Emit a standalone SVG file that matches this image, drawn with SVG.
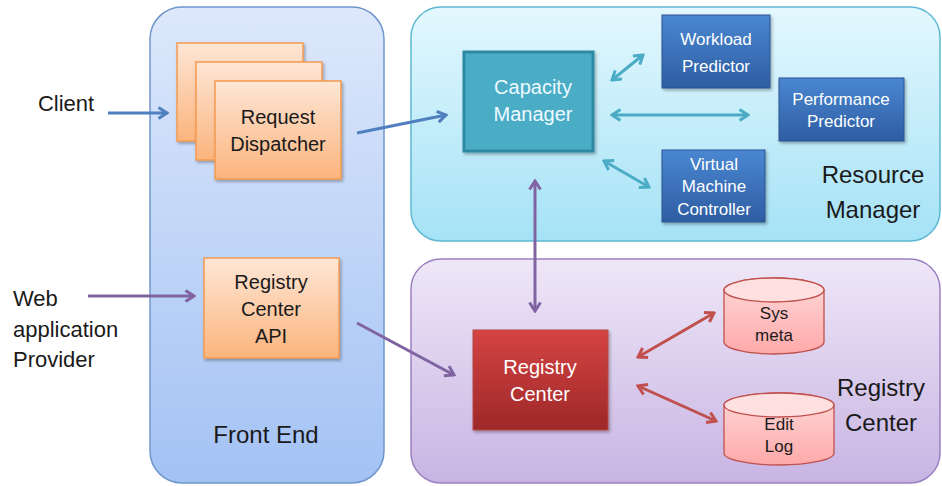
<svg xmlns="http://www.w3.org/2000/svg" width="942" height="486" viewBox="0 0 942 486">
<defs>
<linearGradient id="gFront" x1="0" y1="0" x2="0" y2="1"><stop offset="0" stop-color="#dde8fb"/><stop offset="1" stop-color="#a3c2f4"/></linearGradient>
<linearGradient id="gRes" x1="0" y1="0" x2="0" y2="1"><stop offset="0" stop-color="#e3f8fe"/><stop offset="1" stop-color="#a5e2f6"/></linearGradient>
<linearGradient id="gReg" x1="0" y1="0" x2="0" y2="1"><stop offset="0" stop-color="#eee7f7"/><stop offset="1" stop-color="#c8b4e3"/></linearGradient>
<linearGradient id="gOr" x1="0" y1="0" x2="0" y2="1"><stop offset="0" stop-color="#fee6d5"/><stop offset="1" stop-color="#fbb47d"/></linearGradient>
<linearGradient id="gBlue" x1="0" y1="0" x2="0" y2="1"><stop offset="0" stop-color="#4a87d2"/><stop offset="1" stop-color="#2e5da2"/></linearGradient>
<linearGradient id="gRed" x1="0" y1="0" x2="0" y2="1"><stop offset="0" stop-color="#d54343"/><stop offset="1" stop-color="#9e2828"/></linearGradient>
<linearGradient id="gCyl" x1="0" y1="0" x2="0" y2="1"><stop offset="0" stop-color="#ffd9d9"/><stop offset="1" stop-color="#ffa9a9"/></linearGradient>
<filter id="sh" x="-10%" y="-10%" width="130%" height="130%"><feDropShadow dx="1.5" dy="2" stdDeviation="1.5" flood-color="#000" flood-opacity="0.3"/></filter>
<marker id="mBlue" viewBox="0 0 12 14" refX="10" refY="7" markerWidth="12" markerHeight="14" markerUnits="userSpaceOnUse" orient="auto-start-reverse"><path d="M1.5,1.5 L10,7 L1.5,12.5" fill="none" stroke="#4f7fbf" stroke-width="3"/></marker>
<marker id="mPur" viewBox="0 0 12 14" refX="10" refY="7" markerWidth="12" markerHeight="14" markerUnits="userSpaceOnUse" orient="auto-start-reverse"><path d="M1.5,1.5 L10,7 L1.5,12.5" fill="none" stroke="#8064a2" stroke-width="3"/></marker>
<marker id="mCyan" viewBox="0 0 12 14" refX="10" refY="7" markerWidth="12" markerHeight="14" markerUnits="userSpaceOnUse" orient="auto-start-reverse"><path d="M1.5,1.5 L10,7 L1.5,12.5" fill="none" stroke="#4bacc6" stroke-width="3"/></marker>
<marker id="mRed" viewBox="0 0 12 14" refX="10" refY="7" markerWidth="12" markerHeight="14" markerUnits="userSpaceOnUse" orient="auto-start-reverse"><path d="M1.5,1.5 L10,7 L1.5,12.5" fill="none" stroke="#c0504d" stroke-width="3"/></marker>
</defs>
<style>
text{font-family:"Liberation Sans",Arial,sans-serif;text-anchor:middle;fill:#1a1a1a}
.w{fill:#ffffff}
.s20{font-size:20px}
.s22{font-size:22px}
.s17{font-size:17px}
.s24{font-size:24px}
.orange{fill:url(#gOr);stroke:#f59a4f;stroke-width:1.5;filter:url(#sh)}
.blue{fill:url(#gBlue);stroke:#2b5590;stroke-width:1;filter:url(#sh)}
.cyl{fill:url(#gCyl);stroke:#c0504d;stroke-width:1.3}
.ln{fill:none;stroke-width:3}
</style>

<g id="front-end">
<rect x="150" y="7" width="234" height="476" rx="32" fill="url(#gFront)" stroke="#6f96cc" stroke-width="1.5"/>
<text class="s24" x="266" y="443">Front End</text>
</g>
<g id="resource-manager">
<rect x="411" y="7" width="529" height="234" rx="30" fill="url(#gRes)" stroke="#5fb8d2" stroke-width="1.5"/>
<text class="s24" x="873" y="183">Resource</text>
<text class="s24" x="873" y="218">Manager</text>
</g>
<g id="registry-center-group">
<rect x="411" y="259" width="529" height="224" rx="30" fill="url(#gReg)" stroke="#9a80c2" stroke-width="1.5"/>
<text class="s24" x="881" y="396">Registry</text>
<text class="s24" x="881" y="431">Center</text>
</g>

<g id="client"><text class="s22" x="66" y="111">Client</text></g>
<g id="web-provider">
<text class="s22" x="13" y="306" style="text-anchor:start">Web</text>
<text class="s22" x="13" y="337" style="text-anchor:start">application</text>
<text class="s22" x="13" y="367" style="text-anchor:start">Provider</text>
</g>

<g id="request-dispatcher">
<rect class="orange" x="177" y="43" width="126" height="98"/>
<rect class="orange" x="196" y="62" width="126" height="98"/>
<rect class="orange" x="215" y="81" width="126" height="98"/>
<text class="s20" x="278" y="124">Request</text>
<text class="s20" x="278" y="151">Dispatcher</text>
</g>
<g id="registry-center-api">
<rect class="orange" x="204" y="258" width="135" height="100"/>
<text class="s20" x="271" y="289">Registry</text>
<text class="s20" x="271" y="316">Center</text>
<text class="s20" x="271" y="343">API</text>
</g>

<g id="capacity-manager">
<rect x="464" y="52" width="129" height="99" fill="#4bacc6" stroke="#2f8aa3" stroke-width="3" filter="url(#sh)"/>
<text class="s20" x="533" y="94" style="fill:#eefaff">Capacity</text>
<text class="s20" x="533" y="121" style="fill:#eefaff">Manager</text>
</g>
<g id="workload-predictor">
<rect class="blue" x="662" y="15" width="108" height="73"/>
<text class="s17 w" x="716" y="45">Workload</text>
<text class="s17 w" x="716" y="72">Predictor</text>
</g>
<g id="performance-predictor">
<rect class="blue" x="779" y="78" width="125" height="63"/>
<text class="s17 w" x="841" y="105">Performance</text>
<text class="s17 w" x="841" y="127">Predictor</text>
</g>
<g id="vm-controller">
<rect class="blue" x="662" y="150" width="103" height="72"/>
<text class="s17 w" x="714" y="170">Virtual</text>
<text class="s17 w" x="714" y="192">Machine</text>
<text class="s17 w" x="714" y="215">Controller</text>
</g>

<g id="registry-center">
<rect x="473" y="330" width="135" height="100" fill="url(#gRed)" stroke="#b54848" stroke-width="1" filter="url(#sh)"/>
<text class="s20 w" x="540" y="374">Registry</text>
<text class="s20 w" x="540" y="401">Center</text>
</g>
<g id="sys-meta">
<path class="cyl" d="M724,290 L724,342 A50,12 0 0 0 824,342 L824,290 A50,12 0 0 0 724,290 Z"/>
<ellipse cx="774" cy="290" rx="50" ry="12" fill="#ffe0e0" stroke="#c0504d" stroke-width="1.3"/>
<text class="s17" x="774" y="319">Sys</text>
<text class="s17" x="774" y="341">meta</text>
</g>
<g id="edit-log">
<path class="cyl" d="M724,405 L724,453 A55,12 0 0 0 834,453 L834,405 A55,12 0 0 0 724,405 Z"/>
<ellipse cx="779" cy="405" rx="55" ry="12" fill="#ffe0e0" stroke="#c0504d" stroke-width="1.3"/>
<text class="s17" x="779" y="430">Edit</text>
<text class="s17" x="779" y="452">Log</text>
</g>

<g id="connectors">
<line class="ln" x1="108" y1="113" x2="167" y2="113" stroke="#4f7fbf" marker-end="url(#mBlue)"/>
<line class="ln" x1="357" y1="133" x2="446" y2="115" stroke="#4f7fbf" marker-end="url(#mBlue)"/>
<line class="ln" x1="88" y1="296" x2="194" y2="296" stroke="#8064a2" marker-end="url(#mPur)"/>
<line class="ln" x1="357" y1="323" x2="454" y2="375" stroke="#8064a2" marker-end="url(#mPur)"/>
<line class="ln" x1="535" y1="181" x2="535" y2="311" stroke="#8064a2" marker-start="url(#mPur)" marker-end="url(#mPur)"/>
<line class="ln" x1="612" y1="80" x2="643" y2="55" stroke="#4bacc6" marker-start="url(#mCyan)" marker-end="url(#mCyan)"/>
<line class="ln" x1="612" y1="115" x2="748" y2="115" stroke="#4bacc6" marker-start="url(#mCyan)" marker-end="url(#mCyan)"/>
<line class="ln" x1="604" y1="161" x2="649" y2="187" stroke="#4bacc6" marker-start="url(#mCyan)" marker-end="url(#mCyan)"/>
<line class="ln" x1="638" y1="357" x2="714" y2="313" stroke="#c0504d" marker-start="url(#mRed)" marker-end="url(#mRed)"/>
<line class="ln" x1="638" y1="386" x2="716" y2="421" stroke="#c0504d" marker-start="url(#mRed)" marker-end="url(#mRed)"/>
</g>
</svg>
